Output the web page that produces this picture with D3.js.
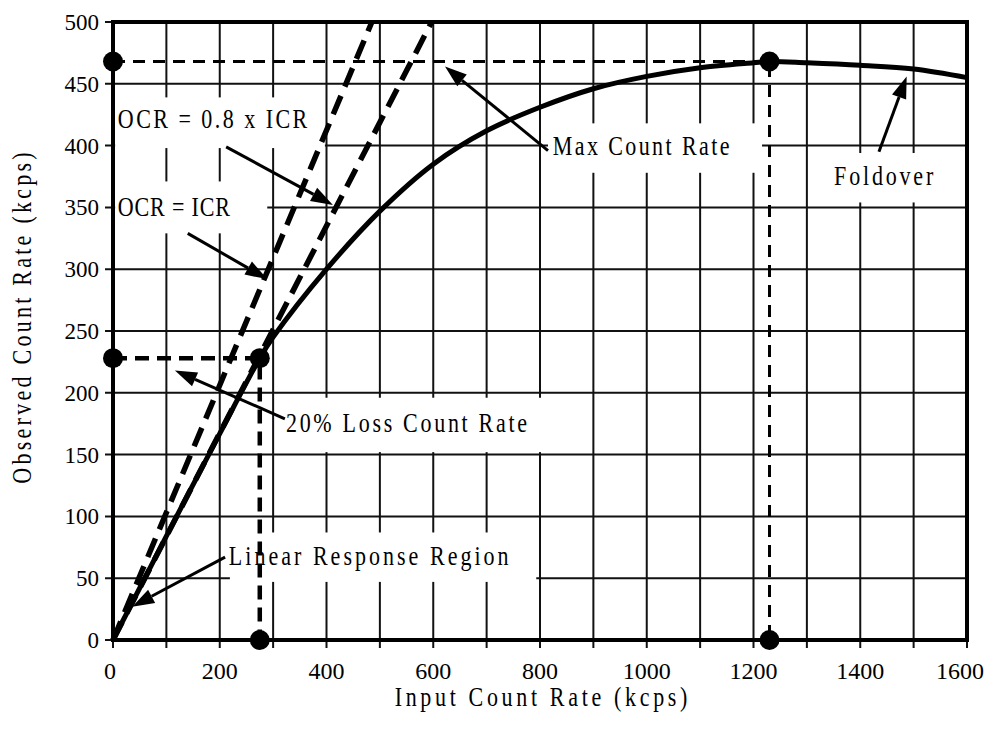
<!DOCTYPE html>
<html><head><meta charset="utf-8">
<script src="https://cdn.jsdelivr.net/npm/d3@7"></script>
<style>body{margin:0;background:#fff}svg{display:block}</style>
</head><body><svg id="c" width="990" height="733"></svg>
<script>
// ---- data ----
const icr = [0, 100, 200, 275, 300, 400, 500, 600, 700, 800, 900, 1000, 1100, 1200, 1230, 1300, 1400, 1500, 1600];
const ocr = [0, 84, 167, 228, 245, 300, 347, 385, 412, 431, 446, 456, 463, 467, 468, 467, 465, 462, 455];
const xTicks = [0, 200, 400, 600, 800, 1000, 1200, 1400, 1600];
const yTicks = [0, 50, 100, 150, 200, 250, 300, 350, 400, 450, 500];
const xGrid = d3.range(0, 1601, 100);
const yGrid = d3.range(0, 501, 50);
const lineEqualICR = [[0, 0], [485, 500]];
const line08ICR = [[0, 0], [597, 500]];
const maxPoint = [1230, 468];
const lossPoint = [275, 228];
const labelTexts = ["OCR = 0.8 x ICR", "OCR = ICR", "Max Count Rate", "Foldover", "20% Loss Count Rate", "Linear Response Region"];
const labelAnchors = [[9, 414], [9, 343], [824, 392], [1351, 368], [324, 168], [217, 61]];
const labelBoxes = [[4, 397, 439, 398], [4, 289, 371, 329], [815, 1216, 418, 378], [1325, 1600, 394, 354], [311, 809, 196, 152], [219, 793, 87, 47]];
const arrowFrom = [[212, 399], [140, 329], [815, 396], [1435, 395], [322, 179], [210, 67]];
const arrowTo = [[412, 352], [289, 292], [622, 464], [1487, 456], [116, 218], [36, 27]];
const xTitle = "Input Count Rate (kcps)";
const yTitle = "Observed Count Rate (kcps)";

// ---- chart ----
const svg = d3.select("#c");
const x = d3.scaleLinear().domain([0, 1600]).range([113, 967]);
const y = d3.scaleLinear().domain([0, 500]).range([640, 22]);
const serifFont = "Liberation Serif, Times New Roman, DejaVu Serif, serif";
const CHAR = 12.9; // per-character advance of the reference's fixed-pitch labels

function label(sel, txt, tr, anchor) {
  return sel.append("text")
    .attr("transform", tr)
    .attr("text-anchor", anchor || "start")
    .attr("font-family", serifFont).attr("font-size", 22)
    .attr("textLength", txt.length * CHAR - 4)
    .attr("lengthAdjust", "spacing")
    .text(txt);
}

// grid
const g = svg.append("g");
g.selectAll("line.vx").data(xGrid).join("line")
  .attr("x1", d => x(d)).attr("x2", d => x(d))
  .attr("y1", y(500)).attr("y2", y(0) + 8)
  .attr("stroke", "#111").attr("stroke-width", 2);
g.selectAll("line.hy").data(yGrid).join("line")
  .attr("y1", d => y(d)).attr("y2", d => y(d))
  .attr("x1", x(0) - 8).attr("x2", x(1600))
  .attr("stroke", "#111").attr("stroke-width", 2);

// white label boxes (cover the grid)
svg.append("g").selectAll("rect").data(labelBoxes).join("rect")
  .attr("x", d => x(d[0])).attr("width", d => x(d[1]) - x(d[0]))
  .attr("y", d => y(d[2])).attr("height", d => y(d[3]) - y(d[2]))
  .attr("fill", "#fff");

// frame
svg.append("rect").attr("x", x(0)).attr("y", y(500))
  .attr("width", x(1600) - x(0)).attr("height", y(0) - y(500))
  .attr("fill", "none").attr("stroke", "#000").attr("stroke-width", 4);

// tick labels
svg.append("g").selectAll("text").data(xTicks).join("text")
  .attr("x", (d, i) => x(d) + (i === 0 ? -3 : i === xTicks.length - 1 ? -7 : 0))
  .attr("y", 679)
  .attr("text-anchor", "middle")
  .attr("font-family", serifFont).attr("font-size", 24)
  .text(d => d);
svg.append("g").selectAll("text").data(yTicks).join("text")
  .attr("x", 99).attr("y", d => y(d) + 8)
  .attr("text-anchor", "end")
  .attr("font-family", serifFont).attr("font-size", 23)
  .text(d => d);

// axis titles
label(svg, xTitle, "translate(541,706) scale(1,1.25)", "middle");
label(svg, yTitle, "translate(31,318) rotate(-90) scale(1,1.25)", "middle");

// reference dashed lines
const ln = d3.line().x(d => x(d[0])).y(d => y(d[1]));
svg.append("path").attr("d", ln([[0, maxPoint[1]], maxPoint, [maxPoint[0], 0]]))
  .attr("fill", "none").attr("stroke", "#000").attr("stroke-width", 3)
  .attr("stroke-dasharray", "12,8");
svg.append("path").attr("d", ln([[0, lossPoint[1]], lossPoint, [lossPoint[0], 0]]))
  .attr("fill", "none").attr("stroke", "#000").attr("stroke-width", 4.5)
  .attr("stroke-dasharray", "14,8");

// ideal lines
[lineEqualICR, line08ICR].forEach(L => {
  svg.append("path").attr("d", ln(L))
    .attr("fill", "none").attr("stroke", "#000").attr("stroke-width", 5.5)
    .attr("stroke-dasharray", "20,10");
});

// measured curve
const curve = d3.line().x((d, i) => x(icr[i])).y((d, i) => y(ocr[i])).curve(d3.curveCatmullRom.alpha(0.5));
svg.append("path").attr("d", curve(icr))
  .attr("fill", "none").attr("stroke", "#000").attr("stroke-width", 5)
  .attr("stroke-linejoin", "round");

// dots
const dots = [[0, maxPoint[1]], maxPoint, [maxPoint[0], 0], [0, lossPoint[1]], lossPoint, [lossPoint[0], 0]];
svg.append("g").selectAll("circle").data(dots).join("circle")
  .attr("cx", d => x(d[0])).attr("cy", d => y(d[1])).attr("r", 10).attr("fill", "#000");

// arrows
arrowFrom.forEach((f, i) => {
  const t = arrowTo[i];
  const x1 = x(f[0]), y1 = y(f[1]), x2 = x(t[0]), y2 = y(t[1]);
  const ang = Math.atan2(y2 - y1, x2 - x1);
  const L = 22, W = 7.5;
  const bx = x2 - L * Math.cos(ang), by = y2 - L * Math.sin(ang);
  svg.append("line").attr("x1", x1).attr("y1", y1).attr("x2", bx).attr("y2", by)
    .attr("stroke", "#000").attr("stroke-width", 3);
  const px = -Math.sin(ang), py = Math.cos(ang);
  svg.append("path")
    .attr("d", `M${x2},${y2}L${bx + W * px},${by + W * py}L${bx - W * px},${by - W * py}Z`)
    .attr("fill", "#000");
});

// labels
labelTexts.forEach((t, i) => {
  label(svg, t, `translate(${x(labelAnchors[i][0])},${y(labelAnchors[i][1])}) scale(1,1.25)`);
});
</script>
</body></html>
